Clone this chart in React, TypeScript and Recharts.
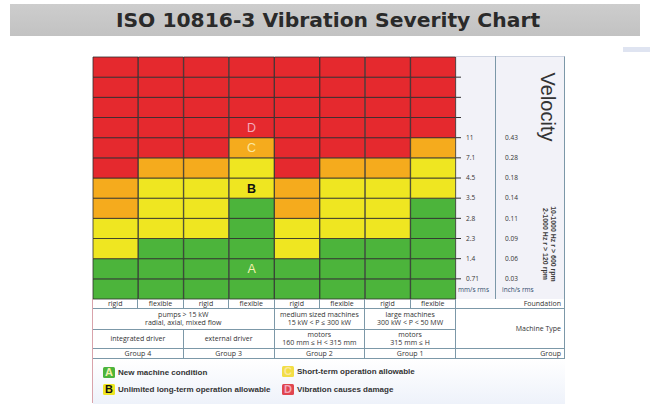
import { BarChart, Bar, XAxis, YAxis, Cell, LabelList } from 'recharts';

// severity zones, counted in grid rows from the bottom, per machine column
const foundations = ['rigid', 'flexible', 'rigid', 'flexible', 'rigid', 'flexible', 'rigid', 'flexible'];
const greenRows = [2, 3, 3, 5, 2, 3, 3, 5];
const yellowRows = [2, 3, 3, 2, 2, 3, 3, 2];
const orangeRows = [2, 1, 1, 1, 2, 1, 1, 1];
const redRows = [6, 5, 5, 4, 6, 5, 5, 4];

// velocity limits at the row boundaries (bottom up)
const mmTicks = ['0.71', '1.4', '2.3', '2.8', '3.5', '4.5', '7.1', '11'];
const inchTicks = ['0.03', '0.06', '0.09', '0.11', '0.14', '0.18', '0.28', '0.43'];

const zoneLetters = ['A', 'B', 'C', 'D'];
const zoneColors = ['#4cb43b', '#efe621', '#f5ab1d', '#e5292e'];
const letterColors = ['#f3f1b0', '#111111', '#fbe7a0', '#f3a9bb'];
// zone letters are written in the "Group 3 flexible" column
const letterColumn = 3;
const letterRows = [1, 5, 7, 8];

const legendText = [
    'New machine condition',
    'Unlimited long-term operation allowable',
    'Short-term operation allowable',
    'Vibration causes damage',
];

const machineTypes = [
    { from: 0, to: 4, text: 'pumps > 15 kW\nradial, axial, mixed flow' },
    { from: 4, to: 6, text: 'medium sized machines\n15 kW < P \u2264 300 kW' },
    { from: 6, to: 8, text: 'large machines\n300 kW < P < 50 MW' },
];
const drivers = [
    { from: 0, to: 2, text: 'integrated driver' },
    { from: 2, to: 4, text: 'external driver' },
    { from: 4, to: 6, text: 'motors\n160 mm \u2264 H < 315 mm' },
    { from: 6, to: 8, text: 'motors\n315 mm \u2264 H' },
];
const groups = [
    { from: 0, to: 2, text: 'Group 4' },
    { from: 2, to: 4, text: 'Group 3' },
    { from: 4, to: 6, text: 'Group 2' },
    { from: 6, to: 8, text: 'Group 1' },
];

const SEGMENTS = greenRows[0] + yellowRows[0] + orangeRows[0] + redRows[0];
const PLOT_LEFT = 93;
const PLOT_RIGHT = 456;
const INCH_COL = 495;
const PANEL_RIGHT = 565;
const colW = (PLOT_RIGHT - PLOT_LEFT) / foundations.length;
const LINE = '#7c98a8';
const FONT = '"Open Sans", "DejaVu Sans", sans-serif';

const zoneOf = (col: number, seg: number) => {
    const g = greenRows[col];
    const y = yellowRows[col];
    const o = orangeRows[col];
    if (seg < g) return 0;
    if (seg < g + y) return 1;
    if (seg < g + y + o) return 2;
    return 3;
};

const data = foundations.map((f, col) => {
    const row: Record<string, string | number> = { name: `${f}-${col}` };
    for (let s = 0; s < SEGMENTS; s++) {
        row[`s${s}`] = 1;
        const li = letterRows.indexOf(s);
        row[`L${s}`] = col === letterColumn && li >= 0 ? zoneLetters[li] : '';
    }
    return row;
});

const segmentKeys = Array.from({ length: SEGMENTS }, (_, s) => s);
const boundaryTicks = segmentKeys.slice(1);

const renderLetter = (p: any) => {
    if (!p.value) return null;
    const vb = p.viewBox ?? p;
    const z = zoneLetters.indexOf(p.value);
    return (
        <text
            x={vb.x + vb.width / 2}
            y={vb.y + vb.height / 2}
            dy={4.5}
            textAnchor="middle"
            fontSize={12.5}
            fontWeight={z === 1 ? 700 : 400}
            fill={letterColors[z]}
            fontFamily="Liberation Sans, Arial, sans-serif"
        >
            {p.value}
        </text>
    );
};

// mm/s and inch/s values share one tick
const renderVelocityTick = (p: any) => {
    const i = p.payload.value - 1;
    return (
        <g fontSize={6.5} fill="#333" fontFamily={FONT}>
            <text x={p.x} y={p.y} dy={2.3}>{mmTicks[i] ?? ''}</text>
            <text x={p.x + INCH_COL - PLOT_RIGHT} y={p.y} dy={2.3}>{inchTicks[i] ?? ''}</text>
        </g>
    );
};

function TCell({ x, y, w, h, text, right }: { x: number; y: number; w: number; h: number; text: string; right?: boolean }) {
    return (
        <div
            style={{
                position: 'absolute', left: x, top: y, width: w, height: h,
                boxSizing: 'border-box',
                borderRight: `1px solid ${LINE}`, borderBottom: `1px solid ${LINE}`,
                display: 'flex', alignItems: 'center',
                justifyContent: right ? 'flex-end' : 'center',
                textAlign: right ? 'right' : 'center',
                paddingRight: right ? 3 : 0,
                fontSize: 7, lineHeight: '8px', color: '#333',
                fontFamily: FONT, whiteSpace: 'pre-line',
            }}
        >
            {text}
        </div>
    );
}

function Swatch({ x, y, zone }: { x: number; y: number; zone: number }) {
    const bg = ['#4cb43b', '#efe621', '#f2de45', '#e0454f'][zone];
    return (
        <div style={{ position: 'absolute', left: x, top: y, width: 12, height: 11 }}>
            <div
                style={{
                    width: 12, height: 11, background: bg, borderRadius: 1.5,
                    color: letterColors[zone], fontSize: 11, fontWeight: 700, lineHeight: '11px',
                    textAlign: 'center', fontFamily: 'Liberation Sans, Arial, sans-serif',
                }}
            >
                {zoneLetters[zone]}
            </div>
            <div
                style={{
                    position: 'absolute', left: 15, top: 1, whiteSpace: 'nowrap',
                    fontSize: 8, fontWeight: 700, color: '#333', lineHeight: '10px',
                    fontFamily: 'Liberation Sans, Arial, sans-serif',
                }}
            >
                {legendText[zone]}
            </div>
        </div>
    );
}

export default function App() {
    const spanX = (from: number) => PLOT_LEFT + from * colW;
    return (
        <div style={{ position: 'absolute', left: 0, top: 0, width: 650, height: 419, background: '#fff', overflow: 'hidden' }}>
            {/* title */}
            <div
                style={{
                    position: 'absolute', left: 10, top: 4, width: 630, height: 32,
                    background: 'linear-gradient(#cdcdcd, #c2c2c2)',
                    display: 'flex', alignItems: 'center', justifyContent: 'center',
                    paddingLeft: 6, boxSizing: 'border-box',
                    fontFamily: '"DejaVu Sans", Verdana, sans-serif', fontWeight: 700,
                    fontSize: 20.3, color: '#2a2a2a',
                }}
            >
                ISO 10816-3 Vibration Severity Chart
            </div>
            <div style={{ position: 'absolute', left: 623, top: 47, width: 27, height: 5, background: '#dfe4f1' }} />

            {/* velocity panel background */}
            <div
                style={{
                    position: 'absolute', left: PLOT_RIGHT, top: 56, width: PANEL_RIGHT - PLOT_RIGHT, height: 243,
                    boxSizing: 'border-box', background: '#f2f2f8',
                    borderTop: '1px solid #cfd5e3', borderRight: `1px solid ${LINE}`,
                }}
            />
            <div style={{ position: 'absolute', left: INCH_COL, top: 56, width: 1, height: 243, background: LINE }} />

            <div style={{ position: 'absolute', left: 0, top: 0 }}>
                <BarChart
                    width={650}
                    height={300}
                    data={data}
                    margin={{ top: 57, right: 650 - PANEL_RIGHT, left: PLOT_LEFT, bottom: 1 }}
                    barCategoryGap={0}
                    barGap={0}
                >
                    <XAxis dataKey="name" hide />
                    <YAxis
                        orientation="right"
                        type="number"
                        domain={[0, SEGMENTS]}
                        ticks={boundaryTicks}
                        interval={0}
                        width={PANEL_RIGHT - PLOT_RIGHT}
                        tickSize={5}
                        tickMargin={5}
                        axisLine={false}
                        tickLine={{ stroke: '#333' }}
                        tick={renderVelocityTick}
                    />
                    {segmentKeys.map((s) => (
                        <Bar
                            key={s}
                            dataKey={`s${s}`}
                            stackId="v"
                            stroke="#2d2d2d"
                            strokeWidth={0.8}
                            isAnimationActive={false}
                        >
                            {data.map((_, col) => (
                                <Cell key={col} fill={zoneColors[zoneOf(col, s)]} />
                            ))}
                            <LabelList dataKey={`L${s}`} content={renderLetter} />
                        </Bar>
                    ))}
                </BarChart>
            </div>

            {/* velocity labels */}
            <div style={{ position: 'absolute', left: 458, top: 285, fontSize: 6.5, color: '#2e4a6a', fontFamily: FONT }}>mm/s rms</div>
            <div style={{ position: 'absolute', left: 502, top: 285, fontSize: 6.5, color: '#2e4a6a', fontFamily: FONT }}>inch/s rms</div>
            <div
                style={{
                    position: 'absolute', left: 547, top: 107, transform: 'translate(-50%, -50%) rotate(90deg)',
                    whiteSpace: 'nowrap', fontSize: 20, color: '#333', fontFamily: 'Liberation Sans, Arial, sans-serif',
                }}
            >
                Velocity
            </div>
            <div
                style={{
                    position: 'absolute', left: 549, top: 244, transform: 'translate(-50%, -50%) rotate(90deg)',
                    whiteSpace: 'nowrap', fontSize: 7, lineHeight: '8px', fontWeight: 700, color: '#3a3a3a',
                    fontFamily: 'Liberation Sans, Arial, sans-serif', textAlign: 'center',
                }}
            >
                10-1000 Hz r &gt; 600 rpm<br />2-1000 Hz r &gt; 120 rpm
            </div>

            {/* machine table */}
            {foundations.map((f, i) => (
                <TCell key={i} x={spanX(i)} y={299} w={colW} h={10} text={f} />
            ))}
            <TCell x={PLOT_RIGHT} y={299} w={PANEL_RIGHT - PLOT_RIGHT} h={10} text="Foundation" right />
            {machineTypes.map((m, i) => (
                <TCell key={i} x={spanX(m.from)} y={309} w={(m.to - m.from) * colW} h={21} text={m.text} />
            ))}
            {drivers.map((m, i) => (
                <TCell key={i} x={spanX(m.from)} y={330} w={(m.to - m.from) * colW} h={19} text={m.text} />
            ))}
            <TCell x={PLOT_RIGHT} y={309} w={PANEL_RIGHT - PLOT_RIGHT} h={40} text="Machine Type" right />
            {groups.map((m, i) => (
                <TCell key={i} x={spanX(m.from)} y={349} w={(m.to - m.from) * colW} h={10} text={m.text} />
            ))}
            <TCell x={PLOT_RIGHT} y={349} w={PANEL_RIGHT - PLOT_RIGHT} h={10} text="Group" right />

            {/* legend */}
            <div
                style={{
                    position: 'absolute', left: PLOT_LEFT, top: 359, width: PANEL_RIGHT - PLOT_LEFT, height: 45,
                    background: 'linear-gradient(#ffffff, #eef2fa)',
                }}
            />
            <div style={{ position: 'absolute', left: PLOT_LEFT - 1, top: 299, width: 1, height: 104, background: '#d9a3ab' }} />
            <Swatch x={103} y={367} zone={0} />
            <Swatch x={103} y={384} zone={1} />
            <Swatch x={282} y={366} zone={2} />
            <Swatch x={282} y={384} zone={3} />
        </div>
    );
}
